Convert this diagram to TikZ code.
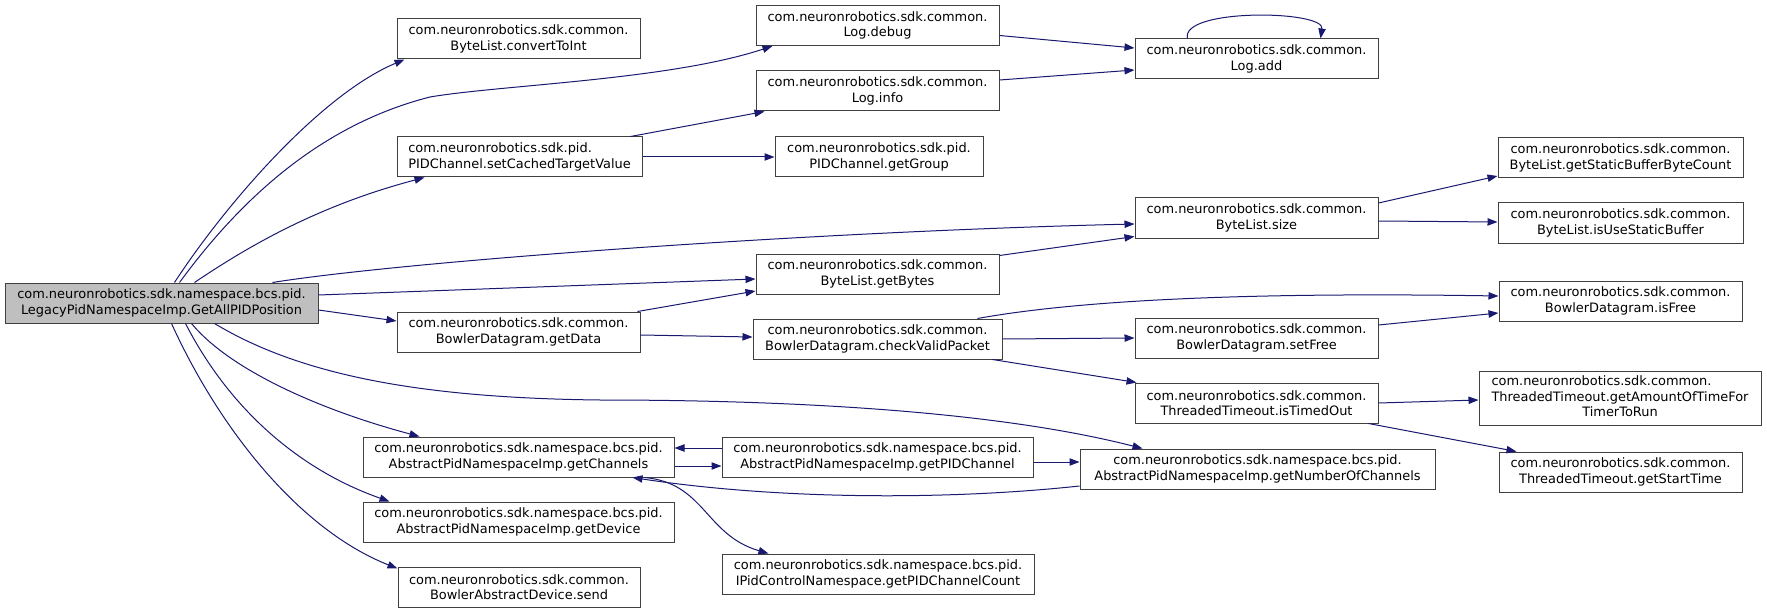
\documentclass[tikz,border=0pt]{standalone}
\usepackage{fontspec}
\setmainfont{DejaVu Sans}
\usetikzlibrary{arrows.meta,calc}
\definecolor{edgeblue}{HTML}{191970}
\definecolor{rootgray}{HTML}{BFBFBF}
\definecolor{boxline}{HTML}{404040}
\begin{document}
\begin{tikzpicture}[x=0.75pt,y=-0.75pt,
  fn/.style={draw=boxline, line width=0.75pt, fill=white, inner sep=0pt, align=center,
    font=\fontsize{9.7}{11.4}\selectfont, minimum height=30pt},
  bw/.style={minimum width=#1*0.75pt},
  bh/.style={minimum height=#1*0.75pt},
  e/.style={draw=edgeblue, line width=0.75pt, -{Triangle[length=7.5pt,width=5.5pt]}}]
\useasboundingbox (0,0) rectangle (1767,613);

% nodes
\node[fn, fill=rootgray, bw=313] (root) at (161.5,303) {com.neuronrobotics.sdk.namespace.bcs.pid.\\LegacyPidNamespaceImp.GetAllPIDPosition};
\node[fn, bw=243] (cti) at (518.5,39) {com.neuronrobotics.sdk.common.\\ByteList.convertToInt};
\node[fn, bw=243] (debug) at (877.5,25.5) {com.neuronrobotics.sdk.common.\\Log.debug};
\node[fn, bw=243] (info) at (877.5,91) {com.neuronrobotics.sdk.common.\\Log.info};
\node[fn, bw=245, align=left] (setc) at (519.5,157) {com.neuronrobotics.sdk.pid.\\PIDChannel.setCachedTargetValue};
\node[fn, bw=208] (ggrp) at (879,157) {com.neuronrobotics.sdk.pid.\\PIDChannel.getGroup};
\node[fn, bw=243] (add) at (1256.5,59) {com.neuronrobotics.sdk.common.\\Log.add};
\node[fn, bw=243] (size) at (1256.5,218) {com.neuronrobotics.sdk.common.\\ByteList.size};
\node[fn, bw=245] (gsb) at (1620.5,158) {com.neuronrobotics.sdk.common.\\ByteList.getStaticBufferByteCount};
\node[fn, bw=245] (iusb) at (1620.5,223) {com.neuronrobotics.sdk.common.\\ByteList.isUseStaticBuffer};
\node[fn, bw=243] (bytes) at (877.5,274) {com.neuronrobotics.sdk.common.\\ByteList.getBytes};
\node[fn, bw=243] (data) at (518.5,332) {com.neuronrobotics.sdk.common.\\BowlerDatagram.getData};
\node[fn, bw=249] (cvp) at (877.5,339) {com.neuronrobotics.sdk.common.\\BowlerDatagram.checkValidPacket};
\node[fn, bw=243] (isfree) at (1620.5,301) {com.neuronrobotics.sdk.common.\\BowlerDatagram.isFree};
\node[fn, bw=243] (setfree) at (1256.5,338) {com.neuronrobotics.sdk.common.\\BowlerDatagram.setFree};
\node[fn, bw=243] (ito) at (1256.5,403) {com.neuronrobotics.sdk.common.\\ThreadedTimeout.isTimedOut};
\node[fn, bw=282, bh=54] (gat) at (1620,398) {\begin{tabular}{@{}l@{}}com.neuronrobotics.sdk.common.\\ThreadedTimeout.getAmountOfTimeFor\\\multicolumn{1}{@{}c@{}}{TimerToRun}\end{tabular}};
\node[fn, bw=243] (gst) at (1620.5,472) {com.neuronrobotics.sdk.common.\\ThreadedTimeout.getStartTime};
\node[fn, bw=311] (gch) at (518.5,457) {com.neuronrobotics.sdk.namespace.bcs.pid.\\AbstractPidNamespaceImp.getChannels};
\node[fn, bw=311] (gdev) at (518.5,522) {com.neuronrobotics.sdk.namespace.bcs.pid.\\AbstractPidNamespaceImp.getDevice};
\node[fn, bw=242] (send) at (519,587) {com.neuronrobotics.sdk.common.\\BowlerAbstractDevice.send};
\node[fn, bw=311] (gpc) at (877.5,457) {com.neuronrobotics.sdk.namespace.bcs.pid.\\AbstractPidNamespaceImp.getPIDChannel};
\node[fn, bw=355] (nch) at (1257.5,469) {com.neuronrobotics.sdk.namespace.bcs.pid.\\AbstractPidNamespaceImp.getNumberOfChannels};
\node[fn, bw=312] (pcc) at (878,574) {com.neuronrobotics.sdk.namespace.bcs.pid.\\IPidControlNamespace.getPIDChannelCount};

% edges from root
\draw[e] ($(root.north west)+(170,0)$) .. controls (225,205) and (320,95) .. ($(cti.south west)+(8,0)$);
\draw[e] ($(root.north west)+(175,0)$) .. controls (240,200) and (320,125) .. (430,97) .. controls (500,85) and (670,80) .. ($(debug.south west)+(17,0)$);
\draw[e] ($(root.north west)+(190,0)$) .. controls (250,245) and (320,205) .. ($(setc.south west)+(28,0)$);
\draw[e] ($(root.north west)+(268,0)$) .. controls (400,262) and (800,232) .. ($(size.west)+(0,6)$);
\draw[e] ($(root.east)+(0,-8)$) -- ($(bytes.west)+(0,5)$);
\draw[e] ($(root.east)+(0,7)$) -- ($(data.west)+(0,-11)$);
\draw[e] ($(root.south west)+(210,0)$) .. controls (300,375) and (420,398) .. (600,400) .. controls (800,400) and (1000,412) .. ($(nch.north west)+(63,0)$);
\draw[e] ($(root.south west)+(187,0)$) .. controls (230,370) and (320,410) .. ($(gch.north west)+(57,0)$);
\draw[e] ($(root.south west)+(181,0)$) .. controls (230,410) and (300,470) .. ($(gdev.north west)+(27,0)$);
\draw[e] ($(root.south west)+(167,0)$) .. controls (220,430) and (300,530) .. ($(send.north west)+(0,2)$);

% other edges
\draw[e] ($(setc.north east)+(-12,0)$) -- ($(info.south west)+(9,0)$);
\draw[e] (setc.east) -- (ggrp.west);
\draw[e] ($(debug.east)+(0,10)$) -- ($(add.west)+(0,-11)$);
\draw[e] ($(info.east)+(0,-11)$) -- ($(add.west)+(0,11)$);
\draw[e] ($(add.north west)+(53,0)$) .. controls (1180,8) and (1325,10) .. ($(add.north west)+(186,0)$);
\draw[e] ($(size.east)+(0,-15)$) -- ($(gsb.west)+(0,18)$);
\draw[e] ($(size.east)+(0,3)$) -- ($(iusb.west)+(0,-1)$);
\draw[e] ($(bytes.north east)+(0,2)$) -- ($(size.south west)+(0,-2)$);
\draw[e] ($(data.north east)+(-3,0)$) -- ($(bytes.west)+(0,17)$);
\draw[e] ($(data.east)+(0,3)$) -- ($(cvp.west)+(0,-2)$);
\draw[e] ($(cvp.north east)+(-25,0)$) .. controls (1080,300) and (1250,292) .. ($(isfree.west)+(0,-5)$);
\draw[e] (cvp.east) -- (setfree.west);
\draw[e] ($(cvp.south east)+(-10,0)$) -- ($(ito.north west)+(2,0)$);
\draw[e] ($(setfree.east)+(0,-13)$) -- ($(isfree.west)+(0,12)$);
\draw[e] (ito.east) -- ($(gat.west)+(0,2)$);
\draw[e] ($(ito.south east)+(-10,0)$) -- ($(gst.north west)+(18,0)$);
\draw[e] ($(gpc.west)+(0,-9)$) -- ($(gch.east)+(0,-9)$);
\draw[e] ($(gch.east)+(0,9)$) -- ($(gpc.west)+(0,9)$);
\draw[e] ($(gpc.east)+(0,5)$) -- ($(nch.west)+(0,-7)$);
\draw[e] ($(nch.west)+(0,17)$) .. controls (950,500) and (780,500) .. ($(gch.south west)+(270,0)$);
\draw[e] ($(gch.south west)+(282,0)$) .. controls (705,483) and (705,535) .. ($(pcc.north west)+(47,0)$);
\end{tikzpicture}
\end{document}
